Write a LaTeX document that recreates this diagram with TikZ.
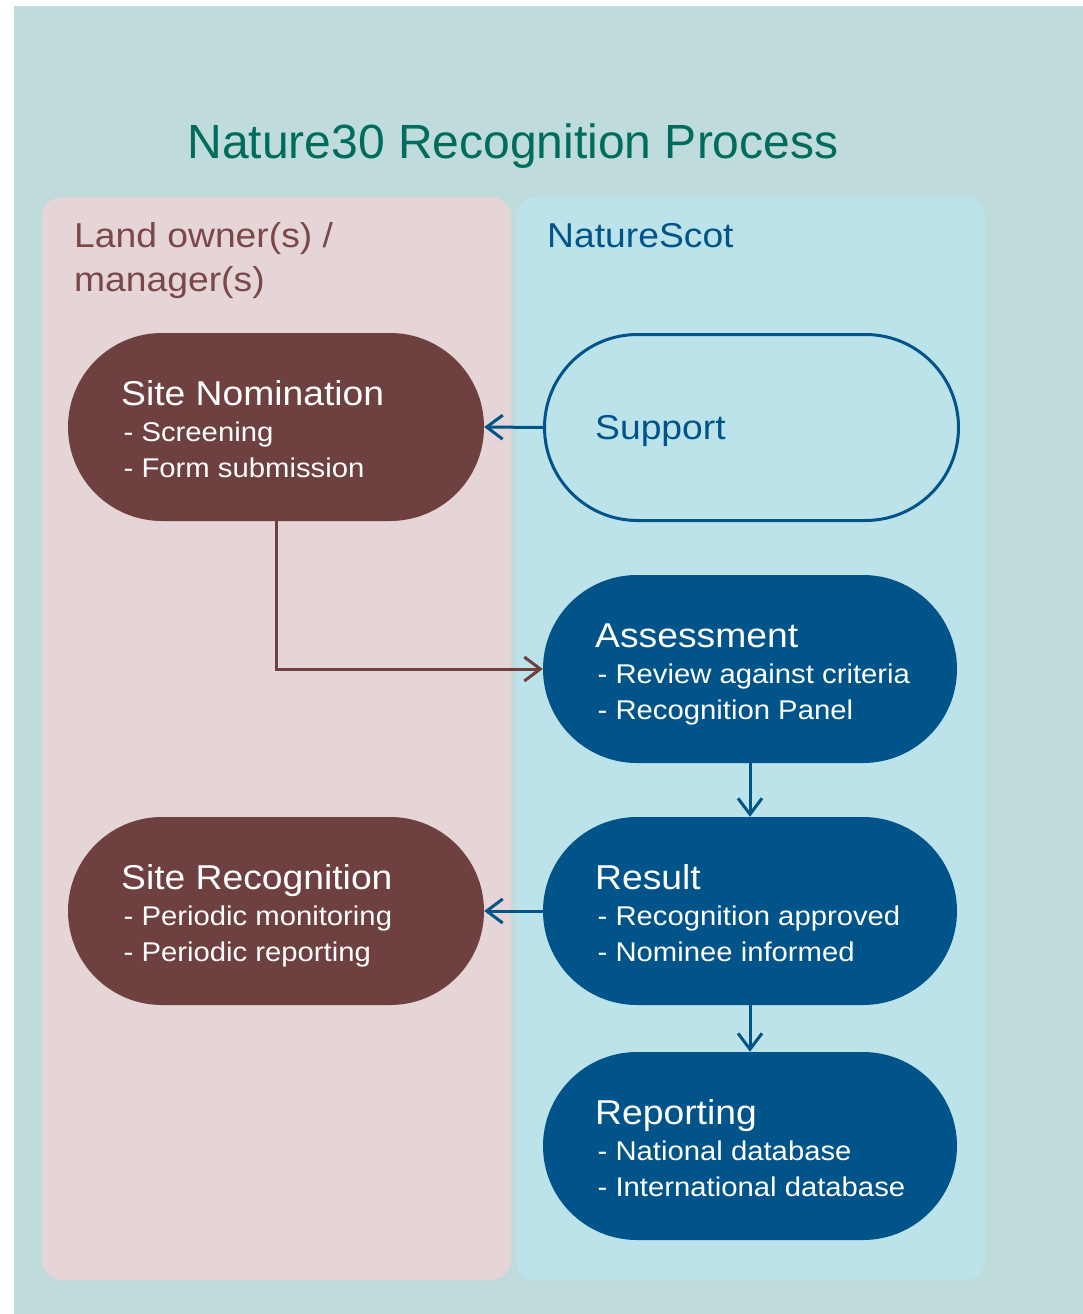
\documentclass[tikz,border=0pt]{standalone}
\usepackage{fontspec}
\setmainfont{Liberation Sans}
\newfontfamily\widefont{Liberation Sans}[FakeStretch=1.08]
\usetikzlibrary{arrows.meta}

\definecolor{bgteal}{HTML}{C0DBDB}
\definecolor{lanepink}{HTML}{E6D5D6}
\definecolor{laneblue}{HTML}{BCE3EA}
\definecolor{ownerbrown}{HTML}{6F4040}
\definecolor{scotnavy}{HTML}{00548A}
\definecolor{titlegreen}{HTML}{006C5E}
\definecolor{ownerlabel}{HTML}{7A4848}

% heading and two bullet lines inside a stage: name, left x, centre y, texts
\newcommand\stagelabel[6]{%
  \node[head] (#1h) at (#2,#3-22) {#4};
  \node[item] (#1a) at (#2+2.5,#3+14.5) {#5};
  \node[item] (#1b) at (#2+2.5,#3+50.5) {#6};}

\begin{document}
\begin{tikzpicture}[x=1pt,y=-1pt,
  stage/.style={rounded corners=94pt, minimum height=188pt, inner sep=0pt},
  ownerstage/.style={stage, fill=ownerbrown, minimum width=416pt},
  scotstage/.style={stage, fill=scotnavy, minimum width=414pt},
  head/.style={anchor=base west, inner sep=0pt, text=white,
    font=\widefont\fontsize{34.5}{40}\selectfont},
  item/.style={anchor=base west, inner sep=0pt, text=white,
    font=\widefont\fontsize{27.1}{32}\selectfont},
  lanelabel/.style={anchor=base west, inner sep=0pt,
    font=\widefont\fontsize{34.5}{40}\selectfont},
  flow/.style={line width=3pt, -{Straight Barb[length=16pt,width=24pt]}},
]
\useasboundingbox (0,0) rectangle (1083,1314);
\fill[bgteal] (14,6) rectangle (1083,1314);

% swim lanes
\fill[lanepink, rounded corners=20pt] (42,197) rectangle (511,1280);
\fill[laneblue, rounded corners=20pt] (516,197) rectangle (985,1280);

% title and lane headers
\node[anchor=base, inner sep=0pt, text=titlegreen,
  font=\fontsize{48}{56}\selectfont] (title) at (513,158) {Nature30 Recognition Process};
\node[lanelabel, text=ownerlabel] (ownerA) at (74,247) {Land owner(s) /};
\node[lanelabel, text=ownerlabel] (ownerB) at (74,291) {manager(s)};
\node[lanelabel, text=scotnavy] (scot) at (547,247) {NatureScot};

% stages
\node[ownerstage] (nom) at (276,427) {};
\node[stage, draw=scotnavy, line width=3pt, minimum width=414pt,
  minimum height=186pt, rounded corners=93pt] (sup) at (751.5,427.5) {};
\node[scotstage] (ass) at (750,669) {};
\node[ownerstage] (rec) at (276,911) {};
\node[scotstage] (res) at (750,911) {};
\node[scotstage] (rep) at (750,1146) {};

\stagelabel{nom}{121}{427}{Site Nomination}{- Screening}{- Form submission}
\node[head, text=scotnavy] (suph) at (595,439) {Support};
\stagelabel{ass}{595}{669}{Assessment}{- Review against criteria}{- Recognition Panel}
\stagelabel{rec}{121}{911}{Site Recognition}{- Periodic monitoring}{- Periodic reporting}
\stagelabel{res}{595}{911}{Result}{- Recognition approved}{- Nominee informed}
\stagelabel{rep}{595}{1146}{Reporting}{- National database}{- International database}

% connectors
\draw[flow, scotnavy] (sup.west) -- (nom.east);
\draw[flow, ownerbrown] (nom.south) |- (ass.west);
\draw[flow, scotnavy] (ass.south) -- (res.north);
\draw[flow, scotnavy] (res.west) -- (rec.east);
\draw[flow, scotnavy] (res.south) -- (rep.north);
\end{tikzpicture}
\end{document}
